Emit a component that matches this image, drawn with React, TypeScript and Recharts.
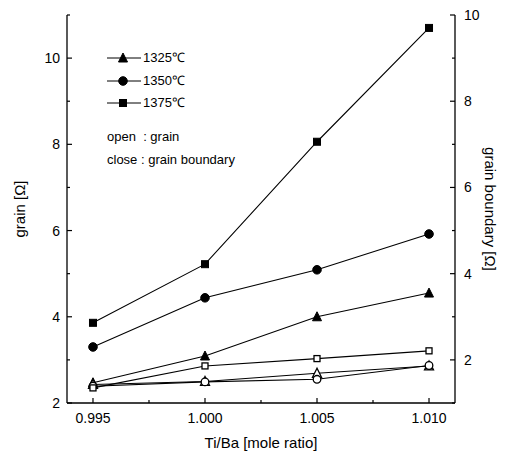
import React from "react";
import { LineChart, Line, XAxis, YAxis, Legend, Label } from "recharts";

// Ti/Ba mole ratio
const ratios = [0.995, 1.0, 1.005, 1.01];
const temps = ["1325℃", "1350℃", "1375℃"];
// closed symbols: grain boundary (right axis)
const boundary1325 = [1.47, 2.09, 3.0, 3.55];
const boundary1350 = [2.3, 3.44, 4.09, 4.92];
const boundary1375 = [2.86, 4.22, 7.06, 9.7];
// open symbols: grain (left axis)
const grain1325 = [2.43, 2.5, 2.69, 2.86];
const grain1350 = [2.39, 2.49, 2.55, 2.87];
const grain1375 = [2.35, 2.86, 3.03, 3.21];

const xMajor = [0.995, 1.0, 1.005, 1.01];
const xMinor = [0.9975, 1.0025, 1.0075];
const leftMajor = [2, 4, 6, 8, 10];
const leftMinor = [3, 5, 7, 9, 11];
const rightMajor = [2, 4, 6, 8, 10];
const rightMinor = [1, 3, 5, 7, 9];

const data = ratios.map((r, i) => ({
  ratio: r,
  b1325: boundary1325[i],
  b1350: boundary1350[i],
  b1375: boundary1375[i],
  g1325: grain1325[i],
  g1350: grain1350[i],
  g1375: grain1375[i],
}));

const FONT = "'Liberation Sans', Arial, sans-serif";
const isIn = (arr: number[], v: number) => arr.some((t) => Math.abs(t - v) < 1e-9);

type Shape = "triangle" | "circle" | "square";

const Marker = ({ cx, cy, shape, open }: { cx: number; cy: number; shape: Shape; open: boolean }) => {
  const fill = open ? "#fff" : "#000";
  const sw = open ? 1.3 : 1;
  if (shape === "circle") return <circle cx={cx} cy={cy} r={open ? 3.8 : 4.3} fill={fill} stroke="#000" strokeWidth={sw} />;
  if (shape === "square") {
    const s = open ? 6 : 7;
    return <rect x={cx - s / 2} y={cy - s / 2} width={s} height={s} fill={fill} stroke="#000" strokeWidth={sw} />;
  }
  const h = 4.5;
  return (
    <polygon
      points={`${cx},${cy - h - 0.5} ${cx - h},${cy + h - 0.5} ${cx + h},${cy + h - 0.5}`}
      fill={fill}
      stroke="#000"
      strokeWidth={sw}
    />
  );
};

const dotFor = (shape: Shape, open: boolean) => (props: any) =>
  <Marker key={`${shape}-${open}-${props.index}`} cx={props.cx} cy={props.cy} shape={shape} open={open} />;

const XTick = (props: any) => {
  const { x, y, payload } = props;
  const major = isIn(xMajor, payload.value);
  return (
    <g>
      <line x1={x} y1={y} x2={x} y2={y - (major ? 5 : 3)} stroke="#000" strokeWidth={1.2} />
      {major && (
        <text x={x} y={y + 20} textAnchor="middle" fontFamily={FONT} fontSize={14} fill="#000">
          {payload.value.toFixed(3)}
        </text>
      )}
    </g>
  );
};

const LeftTick = (props: any) => {
  const { x, y, payload } = props;
  const major = isIn(leftMajor, payload.value);
  return (
    <g>
      <line x1={x} y1={y} x2={x + (major ? 5 : 3)} y2={y} stroke="#000" strokeWidth={1.2} />
      {major && (
        <text x={x - 7} y={y + 5} textAnchor="end" fontFamily={FONT} fontSize={14} fill="#000">
          {payload.value}
        </text>
      )}
    </g>
  );
};

const RightTick = (props: any) => {
  const { x, y, payload } = props;
  const major = isIn(rightMajor, payload.value);
  return (
    <g>
      <line x1={x} y1={y} x2={x - (major ? 5 : 3)} y2={y} stroke="#000" strokeWidth={1.2} />
      {major && (
        <text x={x + 9} y={y + 5} textAnchor="start" fontFamily={FONT} fontSize={14} fill="#000">
          {payload.value}
        </text>
      )}
    </g>
  );
};

const shapes: Shape[] = ["triangle", "circle", "square"];

const LegendBox = () => (
  <div style={{ fontFamily: FONT, fontSize: 13, color: "#000", lineHeight: "22.5px" }}>
    {temps.map((t, i) => (
      <div key={t} style={{ display: "flex", alignItems: "center", height: 22.5 }}>
        <svg width={34} height={12} style={{ marginRight: 2 }}>
          <line x1={0} y1={6} x2={34} y2={6} stroke="#000" strokeWidth={1} />
          <Marker cx={16} cy={6} shape={shapes[i]} open={false} />
        </svg>
        <span>{t}</span>
      </div>
    ))}
    <div style={{ marginTop: 11, height: 23 }}>open&nbsp; : grain</div>
    <div>close : grain boundary</div>
  </div>
);

const series = [
  { key: "b1325", axis: "right", shape: "triangle" as Shape, open: false },
  { key: "b1350", axis: "right", shape: "circle" as Shape, open: false },
  { key: "b1375", axis: "right", shape: "square" as Shape, open: false },
  { key: "g1325", axis: "left", shape: "triangle" as Shape, open: true },
  { key: "g1350", axis: "left", shape: "circle" as Shape, open: true },
  { key: "g1375", axis: "left", shape: "square" as Shape, open: true },
];

export default function App() {
  return (
    <LineChart width={501} height={451} data={data} margin={{ top: 7, right: 0, bottom: 0, left: 0 }}>
      <XAxis
        dataKey="ratio"
        type="number"
        domain={[0.99384, 1.01116]}
        ticks={[...xMajor, ...xMinor].sort((a, b) => a - b)}
        interval={0}
        tick={<XTick />}
        tickLine={false}
        tickSize={0}
        tickMargin={0}
        height={56}
        axisLine={{ stroke: "#000", strokeWidth: 1.3 }}
      >
        <Label value="Ti/Ba [mole ratio]" position="insideBottom" offset={11} style={{ fontFamily: FONT, fontSize: 15, fill: "#000" }} />
      </XAxis>
      <XAxis
        xAxisId="top"
        orientation="top"
        dataKey="ratio"
        type="number"
        domain={[0.99384, 1.01116]}
        height={0}
        tick={false}
        tickLine={false}
        axisLine={{ stroke: "#000", strokeWidth: 1.3 }}
      />
      <YAxis
        yAxisId="left"
        type="number"
        domain={[2, 11]}
        ticks={[...leftMajor, ...leftMinor].sort((a, b) => a - b)}
        interval={0}
        tick={<LeftTick />}
        tickLine={false}
        tickSize={0}
        tickMargin={0}
        width={59}
        axisLine={{ stroke: "#000", strokeWidth: 1.3 }}
      >
        <Label value="grain [Ω]" angle={-90} position="insideLeft" offset={12} style={{ textAnchor: "middle", fontFamily: FONT, fontSize: 15, fill: "#000" }} />
      </YAxis>
      <YAxis
        yAxisId="right"
        orientation="right"
        type="number"
        domain={[1, 10]}
        ticks={[...rightMajor, ...rightMinor].sort((a, b) => a - b)}
        interval={0}
        tick={<RightTick />}
        tickLine={false}
        tickSize={0}
        tickMargin={0}
        width={54}
        axisLine={{ stroke: "#000", strokeWidth: 1.3 }}
      >
        <Label value="grain boundary [Ω]" angle={90} position="insideRight" offset={19} style={{ textAnchor: "middle", fontFamily: FONT, fontSize: 15, fill: "#000" }} />
      </YAxis>
      <Legend
        layout="vertical"
        align="center"
        verticalAlign="middle"
        content={<LegendBox />}
        wrapperStyle={{ top: 39, left: 99, width: 200 }}
      />
      {series.map((s) => (
        <Line
          key={s.key}
          yAxisId={s.axis}
          dataKey={s.key}
          type="linear"
          stroke="#000"
          strokeWidth={1.1}
          dot={dotFor(s.shape, s.open)}
          activeDot={false}
          isAnimationActive={false}
          legendType="none"
        />
      ))}
    </LineChart>
  );
}
